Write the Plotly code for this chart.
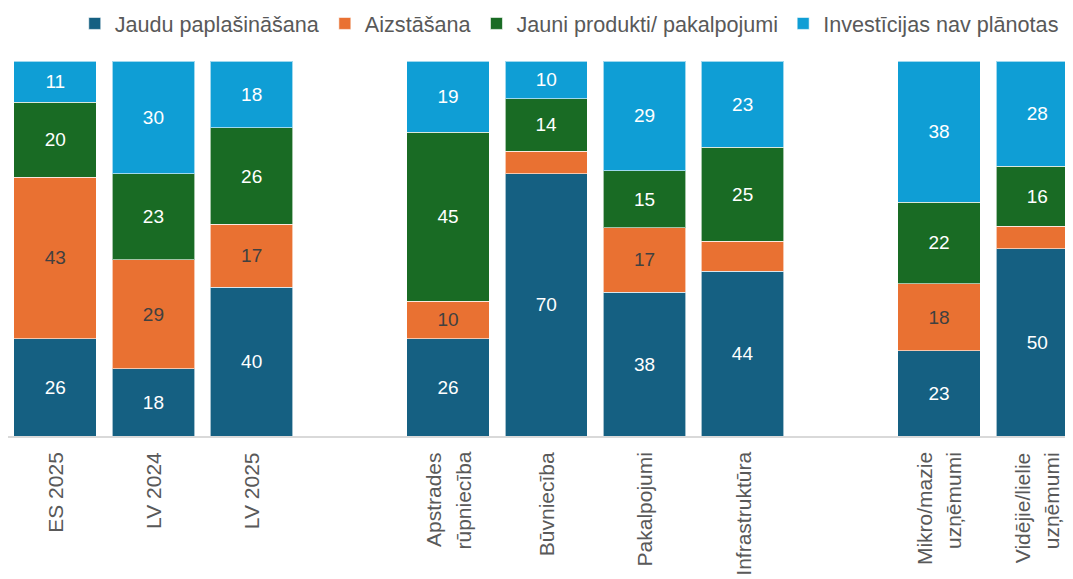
import plotly.graph_objects as go

categories = ["ES 2025", "LV 2024", "LV 2025",
              "Apstrades<br>rūpniecība", "Būvniecība", "Pakalpojumi", "Infrastruktūra",
              "Mikro/mazie<br>uzņēmumi", "Vidējie/lielie<br>uzņēmumi"]
positions = [0, 1, 2, 4, 5, 6, 7, 9, 10]

series_names = ["Jaudu paplašināšana", "Aizstāšana", "Jauni produkti/ pakalpojumi", "Investīcijas nav plānotas"]
jaudu = [26, 18, 40, 26, 70, 38, 44, 23, 50]
aizstasana = [43, 29, 17, 10, 6, 17, 8, 18, 6]
jauni = [20, 23, 26, 45, 14, 15, 25, 22, 16]
nav = [11, 30, 18, 19, 10, 29, 23, 38, 28]
series_values = [jaudu, aizstasana, jauni, nav]

colors = ["#156082", "#E97132", "#196B24", "#0F9ED5"]
label_colors = ["#FFFFFF", "#404040", "#FFFFFF", "#FFFFFF"]
min_label = 9
FONT = "Liberation Sans, Arial, sans-serif"

fig = go.Figure()
for name, vals, col, lc in zip(series_names, series_values, colors, label_colors):
    fig.add_trace(go.Bar(
        x=positions, y=vals, name=name,
        marker=dict(color=col, line=dict(color="rgba(255,255,255,0.6)", width=1)),
        text=[str(v) if v >= min_label else "" for v in vals],
        textposition="inside", insidetextanchor="middle", textangle=0,
        constraintext="none",
        textfont=dict(family=FONT, size=19, color=lc),
        width=0.84, hoverinfo="skip",
    ))

# category labels (rotated), one annotation per line for wider line spacing
line_gap = 29
for pos, cat in zip(positions, categories):
    lines = cat.split("<br>")
    n = len(lines)
    for i, ln in enumerate(lines):
        off = (i - (n - 1) / 2) * line_gap
        fig.add_annotation(x=pos, y=0, xref="x", yref="paper", text=ln, showarrow=False,
                           textangle=-90, xanchor="center", yanchor="top",
                           xshift=off, yshift=-14,
                           font=dict(family=FONT, size=21, color="#595959"))

fig.update_layout(
    width=1065, height=571,
    barmode="stack", barnorm="percent",
    margin=dict(l=0, r=0, t=53, b=143, autoexpand=False),
    plot_bgcolor="white", paper_bgcolor="white",
    showlegend=True,
    legend=dict(orientation="h", x=0.527, xanchor="center", y=1.099, yanchor="middle",
                font=dict(family=FONT, size=21.6, color="#595959"),
                traceorder="normal", itemwidth=30, tracegroupgap=0),
    xaxis=dict(range=[-0.481, 10.364], showticklabels=False, showgrid=False, zeroline=False,
               showline=True, automargin=False, linecolor="#D9D9D9", linewidth=2, ticks=""),
    yaxis=dict(range=[0, 100], visible=False, showgrid=False, zeroline=False),
)

fig.write_html("out.html")
